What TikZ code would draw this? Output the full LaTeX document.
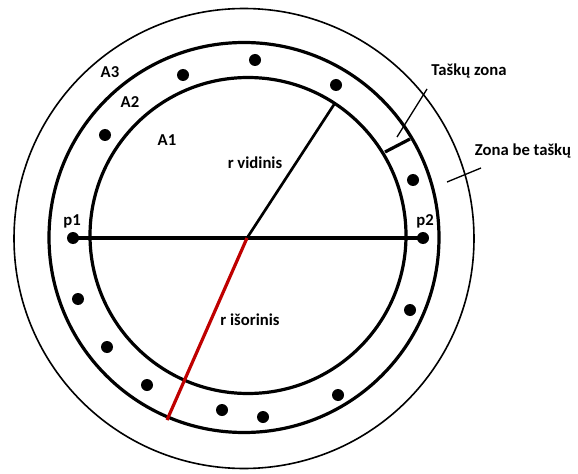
\documentclass[tikz,border=0pt]{standalone}
\usepackage{fontspec}
\setmainfont{Carlito}
\usetikzlibrary{positioning}

\begin{document}
\begin{tikzpicture}[
    x=0.75pt, y=0.75pt,
    thinring/.style={line width=1.2pt},
    thickring/.style={line width=2.4pt},
    dot/.style={circle, fill, inner sep=0pt, minimum size=9pt},
    lbl/.style={font=\fontsize{12.5}{14}\selectfont\bfseries, inner sep=1pt},
    leader/.style={line width=1pt}
]
\useasboundingbox (0,0) rectangle (578,-474);

% centre
\coordinate (c) at (248,-236.5);

% rings
\draw[thinring] (244,-238.5) circle[radius=230];
\draw[thickring] (244,-237.5) circle[radius=195];
\draw[thickring] (248,-235.5) circle[radius=158];

% dots in the ring zone
\foreach \px/\py [count=\i] in {255/60, 183/75, 105/135, 336/85, 413/180,
    78/299, 107/347, 147/385, 222/410, 263/417, 410/310, 338/395}
    \node[dot] (d\i) at (\px,-\py) {};

\node[dot] (dotp1) at (73,-238) {};
\node[dot] (dotp2) at (423,-238) {};

% diameter p1 -- p2
\draw[line width=2.4pt] (dotp1.center) -- (dotp2.center);

% radii
\coordinate (rin) at (335,-103);
\coordinate (rout) at (167,-420);
\draw[line width=2pt] (c) -- (rin);
\draw[line width=2.4pt, red!75!black] (247,-238) -- (rout);

% zone ticks
\coordinate (tz1) at (385,-152);
\coordinate (tz2) at (410,-139);
\draw[line width=2.4pt] (tz1) -- (tz2);
\coordinate (zl1) at (447,-182);
\coordinate (zl2) at (481,-168);
\draw[leader] (zl1) -- (zl2);

% labels
\node[lbl] (a3) at (110,-72) {A3};
\node[lbl] (a2) at (130,-102) {A2};
\node[lbl] (a1) at (167,-140) {A1};
\node[lbl] (p1) at (72,-221) {p1};
\node[lbl] (p2) at (425,-221) {p2};
\node[lbl] (rvid) at (255,-163) {r vidinis};
\node[lbl] (risor) at (250,-320) {r išorinis};
\node[lbl] (tzona) at (469,-71) {Taškų zona};
\node[lbl] (zbe) at (523,-151) {Zona be taškų};

% leader to Taškų zona
\coordinate (tl) at (427,-89);
\draw[leader] (397,-137) -- (tl);

\end{tikzpicture}
\end{document}
